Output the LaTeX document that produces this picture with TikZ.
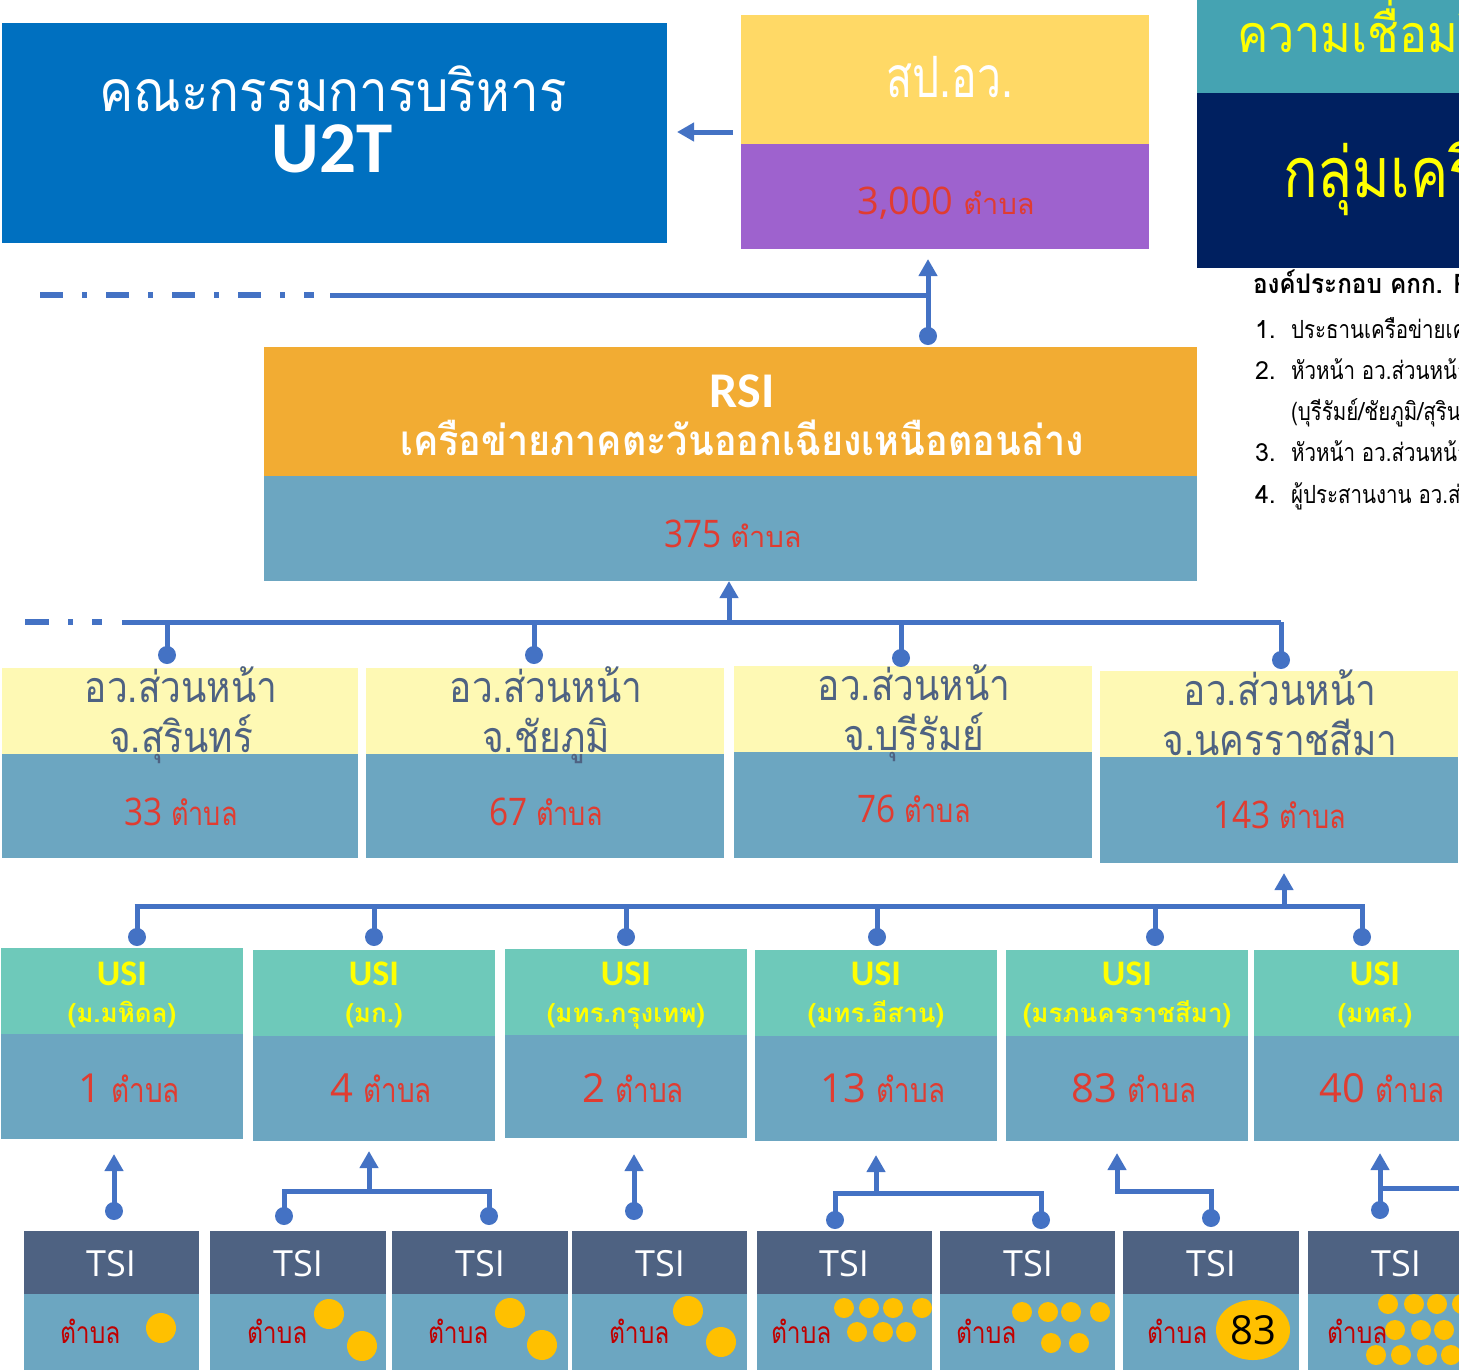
\documentclass[tikz,border=0pt]{standalone}
\usepackage{fontspec}
\setmainfont{Open Sans}
\newfontfamily\thai[Script=Thai]{Loma}
\newfontfamily\thaic[Script=Thai,FakeStretch=0.82]{Loma}
\newfontfamily\thaid[Script=Thai,FakeStretch=0.9]{Loma}
\newfontfamily\thaie[Script=Thai,FakeStretch=0.75]{Loma}
\newfontfamily\thaif[Script=Thai,FakeStretch=0.86]{Loma}
\newfontfamily\osc[FakeStretch=0.88]{Open Sans}
\newfontfamily\carl{Carlito}
\usetikzlibrary{arrows.meta,calc}
\definecolor{cblue}{HTML}{4472C4}
\definecolor{cu2t}{HTML}{0070C0}
\definecolor{cyell}{HTML}{FFD966}
\definecolor{cpurp}{HTML}{9E62CE}
\definecolor{cred}{HTML}{E03C31}
\definecolor{cteal}{HTML}{45A3B2}
\definecolor{cnavy}{HTML}{002060}
\definecolor{corange}{HTML}{F2AC33}
\definecolor{cgrey}{HTML}{6CA6C1}
\definecolor{clyel}{HTML}{FEF9B4}
\definecolor{cslate}{HTML}{4E6282}
\definecolor{cusi}{HTML}{6EC9BA}
\definecolor{cdred}{HTML}{C00000}
\definecolor{cdot}{HTML}{FFC000}
\definecolor{cyl}{HTML}{FFFF00}
\newcommand\fsz[1]{\fontsize{#1}{#1}\selectfont}
\newcommand\bx[7]{\node[blk, fill=#2, minimum width=#5pt-#3pt, minimum height=#6pt-#4pt] (#1) at (#3,#4) {};}
\begin{document}
\begin{tikzpicture}[x=1pt,y=-1pt,
  blk/.style={inner sep=0, outer sep=0, anchor=north west, draw=none},
  con/.style={draw=cblue, line width=5pt},
  arr/.style={con, -{Triangle[width=18pt,length=17pt]}},
  txt/.style={inner sep=0, outer sep=0, anchor=base},
  dashseg/.style={fill=cblue}]
\useasboundingbox (0,0) rectangle (1459,1369);
\clip (0,0) rectangle (1459,1369);
% ---------- boxes ----------
\bx{u2t}{cu2t}{2}{23}{667}{243}{}
\bx{sp}{cyell}{741}{15}{1149}{144}{}
\bx{spn}{cpurp}{741}{144}{1149}{249}{}
\bx{ttl}{cteal}{1197}{0}{1480}{93}{}
\bx{nav}{cnavy}{1197}{93}{1480}{268}{}
\bx{rsi}{corange}{264}{347}{1197}{476}{}
\bx{rsin}{cgrey}{264}{476}{1197}{581}{}
\bx{p1}{clyel}{2}{668}{358}{754}{}
\bx{p1n}{cgrey}{2}{754}{358}{858}{}
\bx{p2}{clyel}{366}{668}{724}{754}{}
\bx{p2n}{cgrey}{366}{754}{724}{858}{}
\bx{p3}{clyel}{734}{666}{1092}{752}{}
\bx{p3n}{cgrey}{734}{752}{1092}{858}{}
\bx{p4}{clyel}{1100}{671}{1458}{757}{}
\bx{p4n}{cgrey}{1100}{757}{1458}{863}{}
\bx{u1}{cusi}{1}{948}{243}{1034}{}
\bx{u1n}{cgrey}{1}{1034}{243}{1139}{}
\bx{u2}{cusi}{253}{950}{495}{1036}{}
\bx{u2n}{cgrey}{253}{1036}{495}{1141}{}
\bx{u3}{cusi}{505}{949}{747}{1035}{}
\bx{u3n}{cgrey}{505}{1035}{747}{1138}{}
\bx{u4}{cusi}{755}{950}{997}{1036}{}
\bx{u4n}{cgrey}{755}{1036}{997}{1141}{}
\bx{u5}{cusi}{1006}{950}{1248}{1036}{}
\bx{u5n}{cgrey}{1006}{1036}{1248}{1141}{}
\bx{u6}{cusi}{1254}{950}{1496}{1036}{}
\bx{u6n}{cgrey}{1254}{1036}{1496}{1141}{}
\foreach \n/\a/\b in {1/24/199,2/210/386,3/392/568,4/572/747,5/757/932,6/940/1115,7/1123/1299,8/1308/1483}{
  \node[blk, fill=cslate, minimum width=\b pt-\a pt, minimum height=63pt] (t\n) at (\a,1231) {};
  \node[blk, fill=cgrey, minimum width=\b pt-\a pt, minimum height=80pt] (t\n n) at (\a,1294) {};
}
% ---------- texts: top ----------
\node[txt, text=white] (u2ta) at (333,111) {\thaid\fsz{57}คณะกรรมการบริหาร};
\node[txt, text=white] (u2tb) at (332,172) {\carl\bfseries\fsz{73}U2T};
\node[txt, text=white] (spa) at (950,97) {\thaie\fsz{57}สป.อว.};
\node[txt, text=cred] (spb) at (946,214) {\fsz{38}3,000 {\thai\fsz{29}ตำบล}};
\node[txt, text=cyl, anchor=base west] (tra) at (1237,52) {\thaid\fsz{52}ความเชื่อมโยง};
\node[txt, text=cyl, anchor=base west] (trb) at (1283,197) {\thaic\fsz{70}กลุ่มเครือข่าย};
\node[txt, anchor=base west] (trc) at (1253,293) {\thaid\bfseries\fsz{27}องค์ประกอบ คกก. RSI};
\node[txt, anchor=base west] (l1n) at (1255,338) {\thai\fsz{25}1.};
\node[txt, anchor=base west] (l1) at (1291,338) {\thaic\fsz{25}ประธานเครือข่ายเครือข่าย};
\node[txt, anchor=base west] (l2n) at (1255,379) {\thai\fsz{25}2.};
\node[txt, anchor=base west] (l2) at (1291,379) {\thaic\fsz{25}หัวหน้า อว.ส่วนหน้าจังหวัด};
\node[txt, anchor=base west] (l2b) at (1291,420) {\thaic\fsz{25}(บุรีรัมย์/ชัยภูมิ/สุรินทร์)};
\node[txt, anchor=base west] (l3n) at (1255,461) {\thai\fsz{25}3.};
\node[txt, anchor=base west] (l3) at (1291,461) {\thaic\fsz{25}หัวหน้า อว.ส่วนหน้าจังหวัด};
\node[txt, anchor=base west] (l4n) at (1255,503) {\thai\fsz{25}4.};
\node[txt, anchor=base west] (l4) at (1291,503) {\thaic\fsz{25}ผู้ประสานงาน อว.ส่วนหน้า};
% ---------- RSI ----------
\node[txt, text=white] (rsia) at (742,407) {\carl\bfseries\fsz{50}RSI};
\node[txt, text=white] (rsib) at (742,455) {\thaid\bfseries\fsz{42}เครือข่ายภาคตะวันออกเฉียงเหนือตอนล่าง};
\node[txt, text=cred] (rsic) at (733,547) {\osc\fsz{38}375 {\thai\fsz{29}ตำบล}};
% ---------- provinces ----------
\foreach \p/\x/\ya/\yb/\yc/\nm/\cnt in {1/181/702/752/825/จ.สุรินทร์/33,2/546/702/752/825/จ.ชัยภูมิ/67,3/914/700/750/822/จ.บุรีรัมย์/76,4/1280/705/755/828/จ.นครราชสีมา/143}{
  \node[txt, text=cslate] at (\x,\ya) {\thaif\fsz{43}อว.ส่วนหน้า};
  \node[txt, text=cslate] at (\x,\yb) {\thaif\fsz{43}\nm};
  \node[txt, text=cred] at (\x,\yc) {\osc\fsz{38}\cnt\ {\thaic\fsz{33}ตำบล}};
}
% ---------- USI ----------
\foreach \x/\nm/\cnt in {122/(ม.มหิดล)/1,374/(มก.)/4,626/(มทร.กรุงเทพ)/2,876/(มทร.อีสาน)/13,1127/(มรภนครราชสีมา)/83,1375/(มทส.)/40}{
  \node[txt, text=cyl] at (\x,985) {\carl\bfseries\fsz{36}USI};
  \node[txt, text=cyl] at (\x,1022) {\thai\bfseries\fsz{26}\nm};
  \node[txt, text=cred] at (\x+7,1102) {\fsz{40}\cnt\ {\thaic\fsz{34}ตำบล}};
}
% ---------- TSI ----------
\foreach \n/\x/\tx in {1/111/60,2/298/247,3/480/428,4/660/609,5/844/771,6/1028/956,7/1211/1147,8/1396/1327}{
  \node[txt, text=white] at (\x,1276) {\fsz{36}TSI};
  \node[txt, text=cdred, anchor=base west] at (\tx,1343) {\thaic\fsz{30}ตำบล};
}
\foreach \x/\y in {161/1328,329/1314,362/1346,510/1313,542/1345,688/1311,721/1342}{
  \fill[cdot] (\x,\y) circle (15pt);
}
\foreach \x/\y in {844/1308,869/1308,893/1308,922/1308,857/1332,883/1332,906/1332,
  1022/1312,1048/1312,1071/1312,1100/1312,1051/1343,1079/1343,
  1388/1304,1414/1304,1437/1304,1462/1304,1395/1330,1421/1330,1444/1330,1469/1330,
  1376/1355,1401/1355,1427/1355,1451/1355}{
  \fill[cdot] (\x,\y) circle (10pt);
}
\fill[cdot] (1253,1330) ellipse [x radius=37pt, y radius=30pt];
\node[txt] (n83) at (1253,1344) {\fsz{40}83};
% ---------- connectors ----------
\coordinate (a0) at (733,132); \coordinate (a1) at (677,132);
\draw[arr] (a0) -- (a1);
% RSI up
\coordinate (rdot) at (928,336); \coordinate (rtip) at (928,259); \coordinate (rj) at (928,295);
\coordinate (rl) at (330,295);
\draw[arr] (rdot) -- (rtip);
\draw[con] (rl) -- (rj);
\foreach \a/\b in {40/63,82/87,106/129,148/153,172/195,214/219,238/261,280/285,304/314}{
  \fill[dashseg] (\a,292) rectangle (\b,298);
}
\fill[cblue] (rdot) circle (9pt);
% province level
\coordinate (pl) at (122,622); \coordinate (pr) at (1281,622);
\coordinate (pup) at (729,622); \coordinate (ptip) at (729,581);
\draw[con] (pl) -- (pr);
\draw[arr] (pup) -- (ptip);
\foreach \a/\b in {25/49,68/73,92/102}{\fill[dashseg] (\a,619) rectangle (\b,625);}
\foreach \x/\y in {167/655,534/655,901/658,1281/660}{
  \draw[con] (\x,622) -- (\x,\y); \fill[cblue] (\x,\y) circle (9pt);
}
% USI level
\coordinate (ul) at (137,906); \coordinate (ur) at (1362,906);
\coordinate (uup) at (1284,906); \coordinate (utip) at (1284,873);
\draw[con] ($(ul)+(-2.5,0)$) -- ($(ur)+(2.5,0)$);
\draw[arr] (uup) -- (utip);
\foreach \x in {137,374,626,877,1155,1362}{
  \draw[con] (\x,906) -- (\x,937); \fill[cblue] (\x,937) circle (9pt);
}
% TSI level
\coordinate (d1) at (114,1211); \coordinate (e1) at (114,1154);
\draw[arr] (d1) -- (e1); \fill[cblue] (d1) circle (9pt);
\coordinate (d2) at (284,1216); \coordinate (d3) at (489,1216);
\coordinate (e2) at (369,1151); \coordinate (j2) at (369,1191);
\draw[con] (d2) |- (j2) -| (d3);
\draw[arr] (j2) -- (e2);
\fill[cblue] (d2) circle (9pt); \fill[cblue] (d3) circle (9pt);
\coordinate (d4) at (634,1211); \coordinate (e4) at (634,1154);
\draw[arr] (d4) -- (e4); \fill[cblue] (d4) circle (9pt);
\coordinate (d5) at (835,1220); \coordinate (d6) at (1041,1220);
\coordinate (e5) at (876,1155); \coordinate (j5) at (876,1193);
\draw[con] (d5) |- (j5) -| (d6);
\draw[arr] (j5) -- (e5);
\fill[cblue] (d5) circle (9pt); \fill[cblue] (d6) circle (9pt);
\coordinate (d7) at (1211,1218); \coordinate (e7) at (1117,1153);
\draw[arr] (d7) |- (1117,1191) -- (e7);
\fill[cblue] (d7) circle (9pt);
\coordinate (d8) at (1380,1210); \coordinate (e8) at (1380,1153); \coordinate (f8) at (1480,1188);
\draw[arr] (d8) -- (e8);
\draw[con] (1380,1188) -- (f8);
\fill[cblue] (d8) circle (9pt);
\end{tikzpicture}
\end{document}
